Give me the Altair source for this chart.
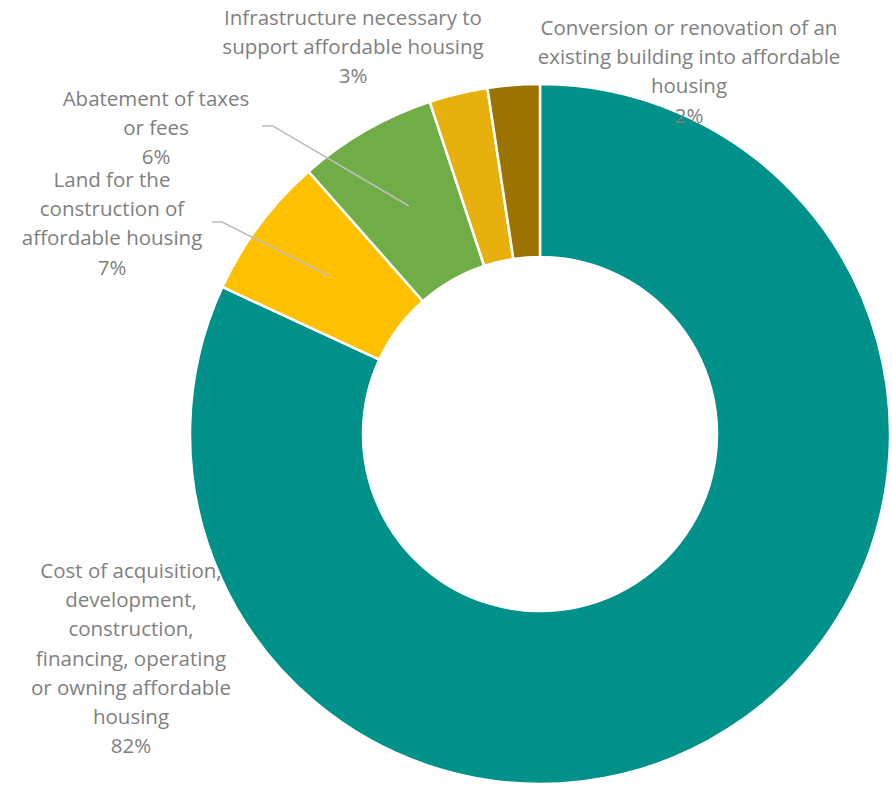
import altair as alt
import pandas as pd

# ---- data ----
categories = [
    "Cost of acquisition, development, construction, financing, operating or owning affordable housing",
    "Land for the construction of affordable housing",
    "Abatement of taxes or fees",
    "Infrastructure necessary to support affordable housing",
    "Conversion or renovation of an existing building into affordable housing",
]
values = [81.9, 6.6, 6.4, 2.7, 2.4]
pct_labels = ["82%", "7%", "6%", "3%", "2%"]
label_lines = [
    ["Cost of acquisition,", "development,", "construction,", "financing, operating", "or owning affordable", "housing"],
    ["Land for the", "construction of", "affordable housing"],
    ["Abatement of taxes", "or fees"],
    ["Infrastructure necessary to", "support affordable housing"],
    ["Conversion or renovation of an", "existing building into affordable", "housing"],
]
colors = ["#00918A", "#FFC000", "#70AD47", "#E8B00C", "#9A7300"]

df = pd.DataFrame({"category": categories, "value": values, "order": list(range(len(categories)))})

# ---- layout (pixel placement of labels / leader lines) ----
CX, CY = 540, 434
R_OUT, R_IN = 350, 177
label_pos = [(131, 578), (112, 187), (156, 106), (353, 25), (689, 35)]
leaders = {
    1: [(212, 222), (222, 222), (329, 276)],
    2: [(262, 126), (273, 126), (409, 206)],
}

W, H = 892, 785

arc = alt.Chart(df).mark_arc(
    outerRadius=R_OUT, innerRadius=R_IN, stroke="white", strokeWidth=2.5
).encode(
    theta=alt.Theta("value:Q", stack=True),
    order=alt.Order("order:Q"),
    color=alt.Color("category:N", scale=alt.Scale(domain=categories, range=colors), legend=None),
    x=alt.value(CX),
    y=alt.value(CY),
)

layers = [arc]

# leader lines
lead_rows = []
for k, pts in leaders.items():
    for i, (px, py) in enumerate(pts):
        lead_rows.append({"id": k, "i": i, "px": px, "py": py})
lead_df = pd.DataFrame(lead_rows)
lines = alt.Chart(lead_df).mark_line(color="#BFBFBF", strokeWidth=1.5).encode(
    x=alt.X("px:Q", scale=None, axis=None),
    y=alt.Y("py:Q", scale=None, axis=None),
    detail="id:N",
    order="i:Q",
)
layers.append(lines)

# labels
txt_rows = []
for i in range(len(categories)):
    txt_rows.append({
        "t": "\n".join(label_lines[i] + [pct_labels[i]]),
        "lx": label_pos[i][0],
        "ly": label_pos[i][1],
    })
txt_df = pd.DataFrame(txt_rows)
texts = alt.Chart(txt_df).mark_text(
    font="Open Sans", fontSize=20.5, color="#7F7F7F", align="center", baseline="alphabetic",
    lineBreak="\n", lineHeight=29.2,
).encode(
    x=alt.X("lx:Q", scale=None, axis=None),
    y=alt.Y("ly:Q", scale=None, axis=None),
    text="t:N",
)
layers.append(texts)

chart = alt.layer(*layers).properties(
    width=W, height=H, padding=0, autosize=alt.AutoSizeParams(type="none")
).configure_view(stroke=None)

chart.save("out.html", embed_options={"renderer": "svg", "actions": False})
